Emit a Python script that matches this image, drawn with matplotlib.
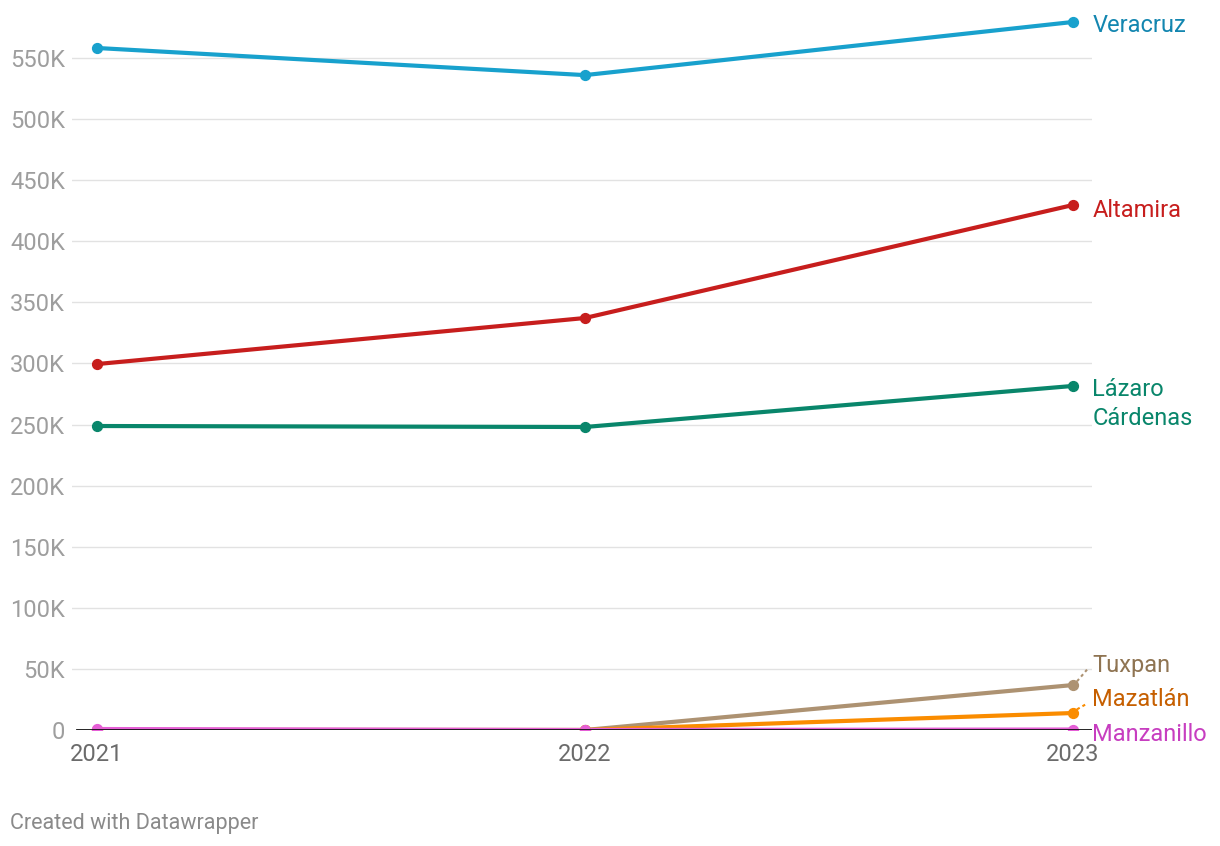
import matplotlib.pyplot as plt
import numpy as np

plt.rcParams["font.family"] = ["Roboto", "DejaVu Sans"]

years = [2021, 2022, 2023]
veracruz = [558200, 536000, 579500]
altamira = [299500, 337200, 429700]
lazaro = [248800, 248000, 281600]
tuxpan = [0, 0, 36800]
mazatlan = [0, 0, 13900]
manzanillo = [800, 0, 400]

series = [
    ("Veracruz", veracruz, "#18a1cd", "#1386b0"),
    ("Altamira", altamira, "#c71e1d", "#c71e1d"),
    ("Lázaro\nCárdenas", lazaro, "#09866b", "#09866b"),
    ("Tuxpan", tuxpan, "#ad9272", "#8f7452"),
    ("Mazatlán", mazatlan, "#fa8c00", "#c65f00"),
    ("Manzanillo", manzanillo, "#e55fd6", "#c73ec0"),
]
# label y positions (data units) for the right-hand labels
label_y = {
    "Veracruz": 577000,
    "Altamira": 425600,
    "Lázaro\nCárdenas": 266800,
    "Tuxpan": 52400,
    "Mazatlán": 24600,
    "Manzanillo": -3300,
}

fig = plt.figure(figsize=(12.2, 8.46), dpi=100)
ax = fig.add_axes([72 / 1220, 1 - 730 / 846, (1092 - 72) / 1220, (730 - 15) / 846])

ax.set_xlim(2021 - 25 / 488, 2023 + 19 / 488)
ax.set_ylim(0, 585200)

yt = np.arange(0, 550001, 50000)
ax.set_yticks(yt)
ax.set_yticklabels(["0"] + [f"{int(v/1000)}K" for v in yt[1:]])
for v in yt[1:]:
    ax.axhline(v, color="#e2e2e2", lw=1, zorder=0)

for name, vals, c, tc in series:
    ax.plot(years, vals, color=c, lw=3, zorder=3, solid_capstyle="round")
    ax.scatter(years, vals, color=c, s=50, zorder=4)
    ly = label_y[name]
    ax.annotate(name, xy=(2023, ly), xytext=(14, 0), textcoords="offset points",
                color=tc, fontsize=17, va="center", ha="left", annotation_clip=False,
                linespacing=1.35)
    if name in ("Tuxpan", "Mazatlán"):
        ax.plot([2023 + 4 / 488, 2023 + 14 / 488], [vals[2] + 3000, ly - 3000],
                color=c, lw=1.5, ls=(0, (1.5, 1.5)), zorder=3, clip_on=False)

ax.axhline(0, color="#111111", lw=2, zorder=5, xmin=5 / 1020)

ax.set_xticks(years)
ax.set_xticklabels([str(y) for y in years])
for s in ax.spines.values():
    s.set_visible(False)
ax.tick_params(axis="both", length=0, labelsize=17)
ax.tick_params(axis="y", labelcolor="#9e9e9e", pad=5)
ax.tick_params(axis="x", labelcolor="#6b6b6b", pad=9)

fig.text(10 / 1220, 1 - 823 / 846, "Created with Datawrapper", color="#8a8a8a",
         fontsize=15.5, va="center", ha="left")

fig.savefig("out.png", dpi=100)
